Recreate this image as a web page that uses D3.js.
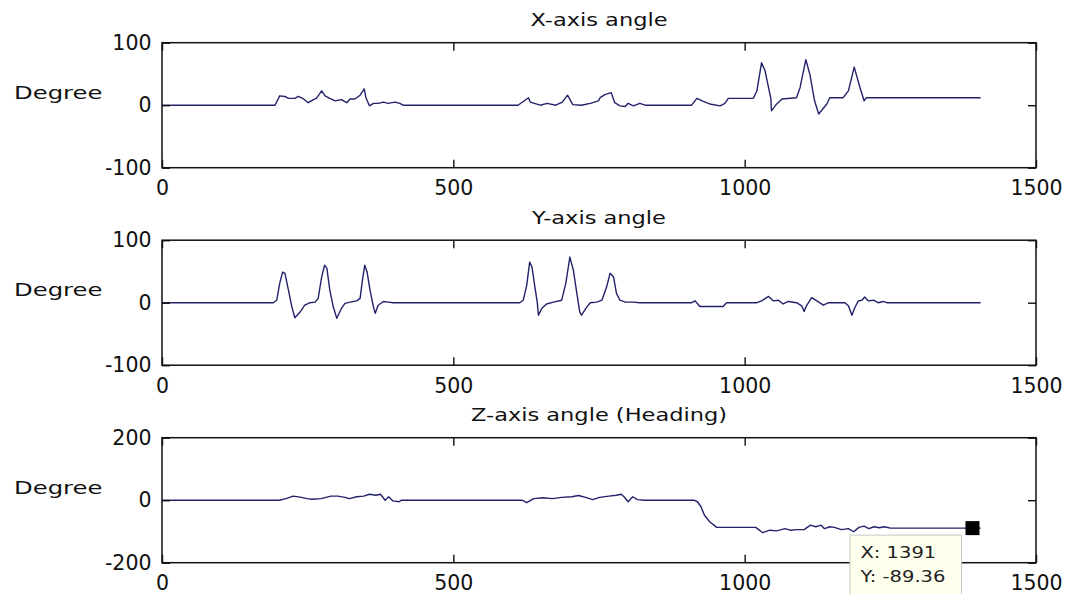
<!DOCTYPE html>
<html>
<head>
<meta charset="utf-8">
<script src="https://cdn.jsdelivr.net/npm/d3@7"></script>
<style>
  html, body { margin: 0; padding: 0; background: #fff; }
  #chart { width: 1067px; height: 594px; }
</style>
</head>
<body>
<div id="chart"></div>
<script>
// sample index / angle pairs
const xAngle = [
  [0, 0], [194, 0], [202, 15], [211, 14], [217, 11], [228, 11], [234, 14], [243, 10],
  [251, 4], [260, 9], [265, 11], [274, 23], [280, 15], [288, 11], [297, 7], [308, 9],
  [317, 4], [323, 10], [331, 10], [340, 16], [347, 26], [350, 12], [356, -1], [363, 3],
  [371, 3], [380, 5], [388, 3], [400, 5], [408, 3], [414, 0], [611, 0], [629, 12],
  [632, 5], [649, 0], [661, 3], [676, 0], [687, 5], [696, 16], [705, 1], [720, 0],
  [735, 3], [749, 7], [752, 12], [760, 17], [771, 20], [777, 4], [786, -1], [795, -2],
  [800, 3], [809, -1], [820, 3], [829, 0], [909, 0], [918, 11], [929, 6], [940, 2],
  [958, -1], [966, 3], [972, 11], [1015, 11], [1021, 23], [1029, 68], [1035, 55],
  [1041, 28], [1045, 10], [1046, -9], [1055, 2], [1064, 10], [1089, 12], [1095, 28],
  [1105, 73], [1112, 49], [1120, 7], [1127, -14], [1141, 2], [1146, 12], [1169, 12],
  [1178, 23], [1188, 61], [1198, 28], [1205, 7], [1209, 12], [1405, 12]
]

const yAngle = [
  [0, 0], [191, 0], [197, 4], [202, 31], [207, 49], [211, 47], [217, 20], [223, -7],
  [228, -24], [237, -15], [245, -4], [254, 0], [263, 1], [268, 7], [274, 41], [279, 60],
  [283, 55], [288, 20], [294, -7], [300, -25], [308, -9], [314, -1], [323, 1], [334, 3],
  [340, 7], [344, 36], [348, 60], [352, 49], [357, 20], [363, -7], [366, -17], [371, -4],
  [380, 2], [388, 1], [397, 0], [614, 0], [620, 4], [626, 28], [631, 65], [635, 57],
  [640, 25], [644, 1], [646, -20], [652, -9], [660, -2], [672, 1], [686, 4], [693, 31],
  [700, 73], [706, 52], [712, 15], [717, -15], [720, -20], [729, -7], [735, 0], [746, 1],
  [755, 4], [763, 25], [769, 47], [775, 41], [780, 15], [786, 4], [795, 1], [809, 1],
  [820, 0], [909, 0], [915, 3], [923, -6], [963, -6], [969, 0], [1021, 0], [1029, 3],
  [1041, 10], [1049, 3], [1058, 4], [1066, -2], [1075, 2], [1089, 0], [1098, -5],
  [1102, -14], [1106, -5], [1115, 8], [1124, 3], [1135, -4], [1144, 0], [1172, 0],
  [1178, -5], [1184, -20], [1189, -8], [1195, 3], [1201, 4], [1206, 9], [1212, 3],
  [1221, 4], [1229, 0], [1238, 2], [1244, 0], [1405, 0]
]

const zAngle = [
  [0, 0], [201, 0], [213, 5], [225, 13], [237, 10], [249, 5], [257, 3], [273, 5],
  [290, 13], [302, 13], [314, 9], [322, 5], [334, 11], [346, 13], [356, 19], [367, 16],
  [375, 19], [383, 0], [389, 11], [396, -2], [407, -5], [411, 0], [618, 0], [626, -8],
  [638, 5], [654, 8], [670, 5], [686, 9], [703, 11], [715, 15], [727, 9], [739, 2],
  [751, 9], [767, 13], [780, 16], [788, 19], [793, 11], [800, -5], [808, 11], [816, 2],
  [828, 0], [913, 0], [919, -5], [925, -21], [931, -48], [940, -69], [952, -87],
  [1019, -87], [1031, -104], [1043, -96], [1055, -98], [1069, -91], [1078, -96],
  [1090, -94], [1102, -94], [1113, -80], [1122, -85], [1131, -80], [1137, -91],
  [1146, -85], [1154, -87], [1166, -94], [1178, -91], [1187, -101], [1196, -87],
  [1205, -83], [1213, -91], [1222, -85], [1231, -88], [1240, -85], [1250, -89.36],
  [1405, -89.36]
]

const titles = ['X-axis angle', 'Y-axis angle', 'Z-axis angle (Heading)']
const series = [xAngle, yAngle, zAngle]
const yLimits = [100, 100, 200]
const xTicks = [0, 500, 1000, 1500]
const tipPoint = [1391, -89.36]

const width = 1067
const height = 594
const left = 162
const right = 1036
const firstTop = 42.7
const panelStep = 197.5
const panelHeight = 125
const font = "'DejaVu Sans', sans-serif"
const lineColor = '#22226b'
const plain = (d) => String(d)

const svg = d3
  .select('#chart')
  .append('svg')
  .attr('width', width)
  .attr('height', height)
  .style('background', '#fff')

const xScale = d3.scaleLinear().domain([0, 1500]).range([left, right])

const styleAxis = (g) => {
  g.attr('font-family', font).attr('font-size', 20.5).attr('color', '#111')
  g.selectAll('.tick line').attr('stroke-width', 1.4)
  g.select('.domain').remove()
}

series.forEach((data, i) => {
  const top = firstTop + i * panelStep
  const bottom = top + panelHeight
  const lim = yLimits[i]
  const yTicks = [-lim, 0, lim]

  const yScale = d3.scaleLinear().domain([-lim, lim]).range([bottom, top])

  const panel = svg.append('g').attr('class', 'panel')

  // data line
  const line = d3
    .line()
    .x((d) => xScale(d[0]))
    .y((d) => yScale(d[1]))

  panel
    .append('path')
    .datum(data)
    .attr('d', line)
    .attr('fill', 'none')
    .attr('stroke', lineColor)
    .attr('stroke-width', 1.4)
    .attr('stroke-linejoin', 'round')

  // axes, ticks pointing inward like matlab
  panel
    .append('g')
    .attr('transform', `translate(0, ${bottom})`)
    .call(d3.axisBottom(xScale).tickValues(xTicks).tickFormat(plain).tickSizeInner(-8).tickSizeOuter(0).tickPadding(13))
    .call(styleAxis)

  panel
    .append('g')
    .attr('transform', `translate(0, ${top})`)
    .call(d3.axisTop(xScale).tickValues(xTicks).tickSizeInner(-8).tickSizeOuter(0).tickFormat(''))
    .call(styleAxis)

  panel
    .append('g')
    .attr('transform', `translate(${left}, 0)`)
    .call(d3.axisLeft(yScale).tickValues(yTicks).tickFormat(plain).tickSizeInner(-8).tickSizeOuter(0).tickPadding(10.5))
    .call(styleAxis)

  panel
    .append('g')
    .attr('transform', `translate(${right}, 0)`)
    .call(d3.axisRight(yScale).tickValues(yTicks).tickSizeInner(-8).tickSizeOuter(0).tickFormat(''))
    .call(styleAxis)

  // box
  panel
    .append('rect')
    .attr('x', left)
    .attr('y', top)
    .attr('width', right - left)
    .attr('height', panelHeight)
    .attr('fill', 'none')
    .attr('stroke', '#111')
    .attr('stroke-width', 1.5)

  // title
  panel
    .append('g')
    .attr('transform', `translate(${(left + right) / 2}, ${top - 16.5})`)
    .append('text')
    .attr('text-anchor', 'middle')
    .attr('transform', 'scale(1.25, 1)')
    .attr('font-family', font)
    .attr('font-size', 18)
    .attr('fill', '#111')
    .text(titles[i])

  // ylabel
  panel
    .append('g')
    .attr('transform', `translate(14, ${top + 56})`)
    .append('text')
    .attr('transform', 'scale(1.35, 1)')
    .attr('font-family', font)
    .attr('font-size', 18)
    .attr('fill', '#111')
    .text('Degree')

  // datatip on the heading plot
  if (i === 2) {
    const mx = xScale(tipPoint[0])
    const my = yScale(tipPoint[1])

    panel
      .append('rect')
      .attr('x', mx - 7)
      .attr('y', my - 7)
      .attr('width', 14)
      .attr('height', 14)
      .attr('fill', '#000')

    const boxRight = mx - 11
    const boxLeft = boxRight - 111.5
    const boxTop = my + 7

    panel
      .append('rect')
      .attr('x', boxLeft)
      .attr('y', boxTop)
      .attr('width', boxRight - boxLeft)
      .attr('height', 80)
      .attr('fill', '#ffffed')
      .attr('stroke', '#c8c8c8')
      .attr('stroke-width', 1)

    const tipLines = [`X: ${tipPoint[0]}`, `Y: ${tipPoint[1]}`]
    tipLines.forEach((t, k) => {
      panel
        .append('g')
        .attr('transform', `translate(${boxLeft + 10.5}, ${boxTop + 23.3 + k * 23.4})`)
        .append('text')
        .attr('transform', 'scale(1.22, 1)')
        .attr('font-family', font)
        .attr('font-size', 16)
        .attr('fill', '#222')
        .text(t)
    })
  }
})
</script>
</body>
</html>
